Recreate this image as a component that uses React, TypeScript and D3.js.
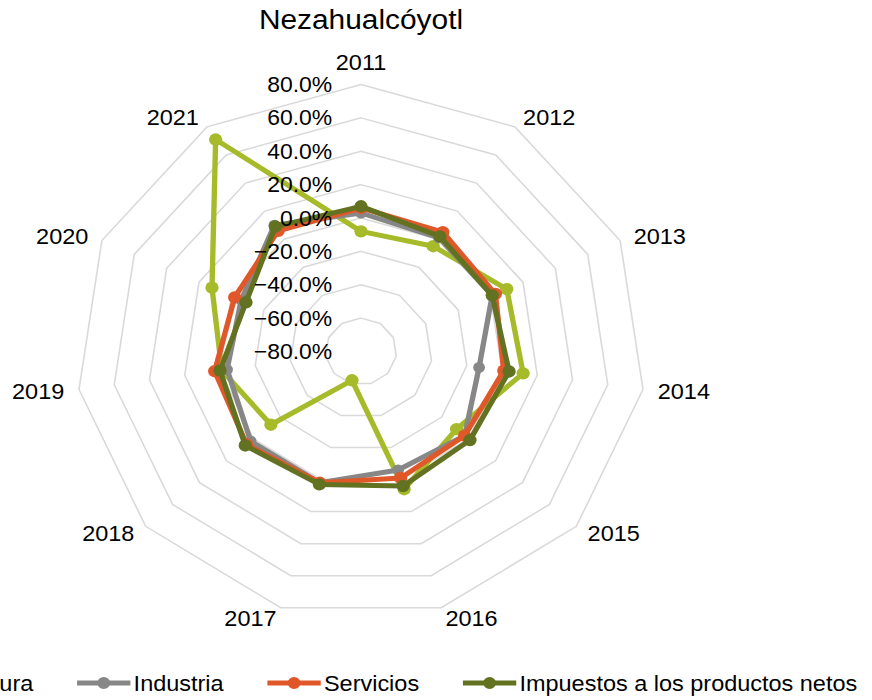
import React, { useMemo } from "react";
import * as d3 from "d3";

const years = ["2011", "2012", "2013", "2014", "2015", "2016", "2017", "2018", "2019", "2020", "2021"];
const agricultura = [-8, -5, 10, 12, -9, 6, -62, -13, -1, 12, 71];
const industria = [3, 1, 1, -13, -3, -6, 2, 2, -4, -6, 10];
const servicios = [6, 5, 3, 1, -3, -1, 2, 5, 3, -2, 6];
const impuestos = [7, 2, 1, 4, 1, 4, 3, 6, 0, -9, 9];
const tickValues = [-0.8, -0.6, -0.4, -0.2, 0, 0.2, 0.4, 0.6, 0.8];
const seriesNames = ["Agricultura", "Industria", "Servicios", "Impuestos a los productos netos"];
const seriesColors = ["#A6BA2A", "#878787", "#E0582A", "#627220"];
const title = "Nezahualcóyotl";

const W = 872;
const H = 700;
const SX = 1.067;
const VW = W / SX;
const cx = 361 / SX;
const cy = 351.5;
const R = 267;
const FONT = "'Liberation Sans', Arial, sans-serif";

export default function App() {
  const seriesData = [agricultura, industria, servicios, impuestos].map((s) => s.map((v) => v / 100));
  const r = d3.scaleLinear().domain([-0.8, 0.8]).range([0, R]);
  const n = years.length;
  const ang = d3.scaleLinear().domain([0, n]).range([0, 2 * Math.PI]);

  const ringLine = d3
    .lineRadial<number>()
    .angle((_, i) => ang(i))
    .radius((d) => r(d))
    .curve(d3.curveLinearClosed);

  const fmt = d3.format(".1%");

  const widths = useMemo(() => {
    const c = document.createElement("canvas").getContext("2d");
    if (!c) return seriesNames.map((s) => s.length * 11);
    c.font = `22px 'Liberation Sans', Arial, sans-serif`;
    return seriesNames.map((s) => c.measureText(s).width);
  }, []);

  const lineW = 50;
  const gapT = 3;
  const gapI = 41;
  const total = widths.reduce((a, w) => a + lineW + gapT + w, 0) + gapI * (seriesNames.length - 1);
  let lx = cx - total / 2;
  const legendItems = seriesNames.map((name, i) => {
    const x0 = lx;
    lx += lineW + gapT + widths[i] + gapI;
    return { name, x0, color: seriesColors[i] };
  });

  const padX = 14;
  const padY = 11;

  return (
    <svg
      width={W}
      height={H}
      viewBox={`0 0 ${VW} ${H}`}
      preserveAspectRatio="none"
      style={{ position: "absolute", left: 0, top: 0, background: "#fff" }}
      fontFamily={FONT}
    >
      <rect x={0} y={0} width={VW} height={H} fill="#fff" />
      <text x={cx} y={29.5} textAnchor="middle" fontSize={28} fill="#000">
        {title}
      </text>
      <g transform={`translate(${cx},${cy})`}>
        {tickValues.slice(1).map((t) => (
          <path
            key={t}
            d={ringLine(years.map(() => t)) || ""}
            fill="none"
            stroke="#D9D9D9"
            strokeWidth={1.5}
          />
        ))}
        {seriesData.map((s, si) => (
          <g key={si}>
            <path
              d={ringLine(s) || ""}
              fill="none"
              stroke={seriesColors[si]}
              strokeWidth={5}
              strokeLinejoin="round"
            />
            {s.map((v, i) => (
              <circle
                key={i}
                cx={r(v) * Math.sin(ang(i))}
                cy={-r(v) * Math.cos(ang(i))}
                r={si === 1 ? 5.5 : 6.2}
                fill={seriesColors[si]}
              />
            ))}
          </g>
        ))}
        {tickValues.map((t) => (
          <text
            key={t}
            x={-27}
            y={-r(t)}
            dy="0.35em"
            textAnchor="end"
            fontSize={21.5}
            fill="#000"
          >
            {fmt(t)}
          </text>
        ))}
        {years.map((y, i) => {
          const a = ang(i);
          const s = Math.sin(a);
          const c = Math.cos(a);
          const x = (R + padX) * s;
          let yy = -R * c - padY * c;
          let anchor: "start" | "end" | "middle" = "middle";
          if (s > 0.2) anchor = "start";
          else if (s < -0.2) anchor = "end";
          else yy += -c * 11;
          return (
            <text key={y} x={x} y={yy} dy="0.35em" textAnchor={anchor} fontSize={22} fill="#000">
              {y}
            </text>
          );
        })}
      </g>
      <g>
        {legendItems.map((it) => (
          <g key={it.name}>
            <line x1={it.x0} x2={it.x0 + lineW} y1={683} y2={683} stroke={it.color} strokeWidth={5} />
            <circle cx={it.x0 + lineW / 2} cy={683} r={6} fill={it.color} />
            <text x={it.x0 + lineW + gapT} y={691} fontSize={22} fill="#000">
              {it.name}
            </text>
          </g>
        ))}
      </g>
    </svg>
  );
}
